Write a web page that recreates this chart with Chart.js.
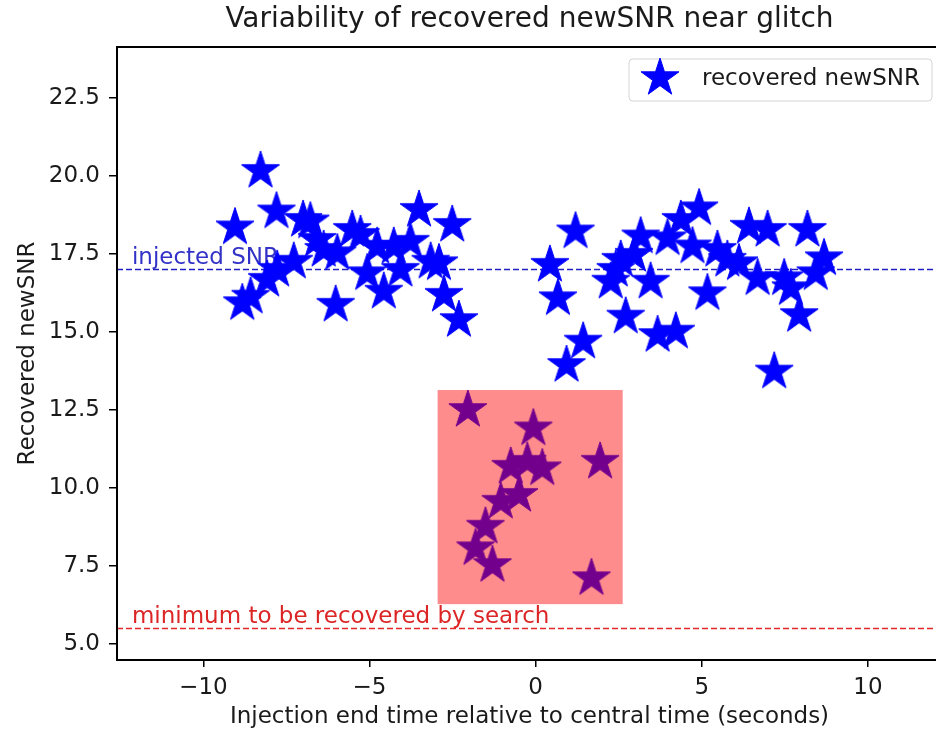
<!DOCTYPE html>
<html>
<head>
<meta charset="utf-8">
<title>Variability of recovered newSNR near glitch</title>
<script src="https://cdn.jsdelivr.net/npm/chart.js@4.4.1/dist/chart.umd.min.js"></script>
<style>
  html, body { margin: 0; padding: 0; background: #fff; overflow: hidden; }
  canvas { display: block; }
</style>
</head>
<body>
<canvas id="chart" width="962" height="730"></canvas>
<script>
// DATOS LEIDOS DEL GRAFICO
// tiempo de fin de inyeccion (s) y newSNR recuperado, punto por punto
const injTime = [
  -9.05, -8.28, -8.83, -8.58, -8.08, -7.78, -7.28, -7.80, -7.00, -6.78,
  -6.58, -6.38, -5.97, -6.02, -5.52, -5.27, -5.07, -4.77, -4.57, -4.27,
  -4.07, -3.77, -3.51, -3.16, -2.91, -2.76, -2.51, -2.31,
  1.20, 0.43, 0.67, 1.43, 0.93, 2.26, 2.41, 2.56, 2.96, 3.16,
  3.46, 2.71, 3.67, 4.22, 3.97, 4.37, 4.92, 4.72, 5.17, 5.47,
  5.77, 6.12, 6.42, 6.98, 6.68, 7.48, 7.68, 7.93, 8.18, 8.43,
  8.68, 7.18,
  -2.04, -0.07, -0.75, -0.25, 0.20, 1.94, -0.50, -1.05, -1.51, -1.81,
  -1.30, 1.68
];
const recSNR = [
  18.35, 20.16, 15.92, 16.13, 16.67, 16.99, 17.25, 18.86, 18.59, 18.54,
  17.95, 17.63, 17.52, 15.87, 18.27, 18.11, 16.88, 17.73, 16.29, 17.73,
  16.99, 17.89, 18.91, 17.25, 17.20, 16.19, 18.43, 15.38,
  18.22, 17.15, 16.08, 14.69, 13.94, 16.61, 16.99, 17.31, 17.47, 18.06,
  16.61, 15.49, 14.90, 15.01, 18.00, 18.59, 18.96, 17.74, 16.24, 17.63,
  17.31, 17.20, 18.37, 18.27, 16.72, 16.72, 16.40, 15.54, 18.27, 16.88,
  17.36, 13.73,
  12.50, 11.91, 10.68, 10.84, 10.63, 10.84, 9.78, 9.56, 8.76, 8.07,
  7.53, 7.11
];

const injectedSNR = 17.0;
const minimumSNR = 5.5;

// zona del glitch
const glitchTime = [-2.95, 2.62];
const glitchSNR = [6.28, 13.14];

// ejes
const xRange = [-12.6, 12.23];
const yRange = [4.49, 24.13];
const xTicks = [-10, -5, 0, 5, 10];
const yTicks = [5, 7.5, 10, 12.5, 15, 17.5, 20, 22.5];

const labelTime = -12.15;   // donde empiezan los textos de las lineas
const labelLift = 0.18;

const FONT = '"DejaVu Sans", sans-serif';
const TXT = '#1a1a1a';

// estrella rellena tipo matplotlib '*'
function makeStar(r, color) {
    const c = document.createElement('canvas');
    const s = Math.ceil(r * 2 + 4);
    c.width = s;
    c.height = s;
    const g = c.getContext('2d');
    g.translate(s / 2, s / 2);
    g.beginPath();
    for (let i = 0; i < 10; i++) {
        const rad = i % 2 ? r * 0.381966 : r;
        const a = -Math.PI / 2 + i * Math.PI / 5;
        g.lineTo(rad * Math.cos(a), rad * Math.sin(a));
    }
    g.closePath();
    g.fillStyle = color;
    g.fill();
    g.strokeStyle = color;
    g.lineWidth = 1;
    g.stroke();
    return c;
}

const star = makeStar(20, '#0000ff');

const points = injTime.map((t, i) => ({x: t, y: recSNR[i]}));

// marco completo del area del grafico
const framePlugin = {
    id: 'frame',
    afterDraw(chart) {
        const {ctx, chartArea: a} = chart;
        ctx.save();
        ctx.strokeStyle = '#000';
        ctx.lineWidth = 2;
        ctx.strokeRect(a.left, a.top, a.right - a.left, a.bottom - a.top);
        ctx.restore();
    }
};

// textos sobre las lineas horizontales (debajo de las estrellas)
const linesText = {
    id: 'linesText',
    beforeDatasetsDraw(chart) {
        const {ctx, scales: {x, y}} = chart;
        ctx.save();
        ctx.font = '23px ' + FONT;
        ctx.textBaseline = 'alphabetic';
        ctx.textAlign = 'left';
        ctx.fillStyle = '#3232c8';
        ctx.fillText('injected SNR', x.getPixelForValue(labelTime), y.getPixelForValue(injectedSNR + labelLift));
        ctx.fillStyle = '#dc2626';
        ctx.fillText('minimum to be recovered by search', x.getPixelForValue(labelTime), y.getPixelForValue(minimumSNR + labelLift));
        ctx.restore();
    }
};

// rectangulo rojo semitransparente encima de los puntos
const glitchBox = {
    id: 'glitchBox',
    afterDatasetsDraw(chart) {
        const {ctx, scales: {x, y}} = chart;
        const x0 = x.getPixelForValue(glitchTime[0]);
        const x1 = x.getPixelForValue(glitchTime[1]);
        const y0 = y.getPixelForValue(glitchSNR[1]);
        const y1 = y.getPixelForValue(glitchSNR[0]);
        ctx.save();
        ctx.fillStyle = 'rgba(255, 0, 0, 0.45)';
        ctx.fillRect(x0, y0, x1 - x0, y1 - y0);
        ctx.restore();
    }
};

// leyenda con recuadro (arriba a la derecha)
const boxLegend = {
    id: 'boxLegend',
    afterDraw(chart) {
        const {ctx, chartArea: a} = chart;
        const bw = 303, bh = 42;
        const bx = a.right - 313;
        const by = a.top + 12;
        ctx.save();
        ctx.beginPath();
        ctx.roundRect(bx, by, bw, bh, 4);
        ctx.fillStyle = 'rgba(255,255,255,0.8)';
        ctx.fill();
        ctx.strokeStyle = '#d4d4d4';
        ctx.lineWidth = 1;
        ctx.stroke();
        ctx.drawImage(star, bx + 31 - star.width / 2, by + bh / 2 - 2 - star.height / 2);
        ctx.font = '23px ' + FONT;
        ctx.fillStyle = TXT;
        ctx.textBaseline = 'middle';
        ctx.fillText('recovered newSNR', bx + 73, by + bh / 2 - 1);
        ctx.restore();
    }
};

const config = {
    type: 'scatter',
    data: {
        datasets: [
            {
                label: 'recovered newSNR',
                data: points,
                pointStyle: star,
                pointRadius: 19,
                backgroundColor: '#0000ff',
                borderColor: '#0000ff'
            },
            {
                label: 'injected SNR',
                data: [{x: xRange[0], y: injectedSNR}, {x: xRange[1], y: injectedSNR}],
                showLine: true,
                pointRadius: 0,
                borderColor: '#2020c0',
                borderWidth: 1.6,
                borderDash: [6, 3]
            },
            {
                label: 'minimum to be recovered by search',
                data: [{x: xRange[0], y: minimumSNR}, {x: xRange[1], y: minimumSNR}],
                showLine: true,
                pointRadius: 0,
                borderColor: '#e02828',
                borderWidth: 1.6,
                borderDash: [6, 3]
            }
        ]
    },
    options: {
        responsive: false,
        devicePixelRatio: 1,
        animation: false,
        events: [],
        layout: { padding: { left: 0, right: 7, top: 0, bottom: 0 } },
        scales: {
            x: {
                type: 'linear',
                min: xRange[0],
                max: xRange[1],
                afterBuildTicks: s => { s.ticks = xTicks.map(v => ({value: v})); },
                afterFit: s => { s.height = 70; s.paddingLeft = 0; s.paddingRight = 0; },
                grid: { drawOnChartArea: false, drawTicks: true, tickLength: 7, color: '#000', lineWidth: 1.5 },
                border: { display: true, color: '#000', width: 2 },
                ticks: {
                    font: { family: FONT, size: 23 },
                    color: TXT,
                    padding: 7,
                    maxRotation: 0,
                    autoSkip: false,
                    callback: v => (v < 0 ? '\u2212' + Math.abs(v) : String(v))
                },
                title: {
                    display: true,
                    text: 'Injection end time relative to central time (seconds)',
                    font: { family: FONT, size: 23, lineHeight: 1.0 },
                    color: TXT,
                    padding: { top: 0, bottom: 1 }
                }
            },
            y: {
                type: 'linear',
                min: yRange[0],
                max: yRange[1],
                afterBuildTicks: s => { s.ticks = yTicks.map(v => ({value: v})); },
                afterFit: s => { s.width = 117; },
                grid: { drawOnChartArea: false, drawTicks: true, tickLength: 8, color: '#000', lineWidth: 1.5 },
                border: { display: true, color: '#000', width: 2 },
                ticks: {
                    font: { family: FONT, size: 23 },
                    color: TXT,
                    padding: 9,
                    autoSkip: false,
                    callback: v => v.toFixed(1)
                },
                title: {
                    display: true,
                    text: 'Recovered newSNR',
                    font: { family: FONT, size: 23, lineHeight: 1.2 },
                    color: TXT,
                    padding: { top: 14, bottom: 0 }
                }
            }
        },
        plugins: {
            legend: { display: false },
            tooltip: { enabled: false },
            title: {
                display: true,
                text: 'Variability of recovered newSNR near glitch',
                fullSize: false,
                font: { family: FONT, size: 28, weight: 'normal', lineHeight: 1.2 },
                color: TXT,
                padding: { top: 3, bottom: 10.4 }
            }
        }
    },
    plugins: [framePlugin, linesText, glitchBox, boxLegend]
};

const grafico = new Chart(document.getElementById('chart'), config);
</script>
</body>
</html>
